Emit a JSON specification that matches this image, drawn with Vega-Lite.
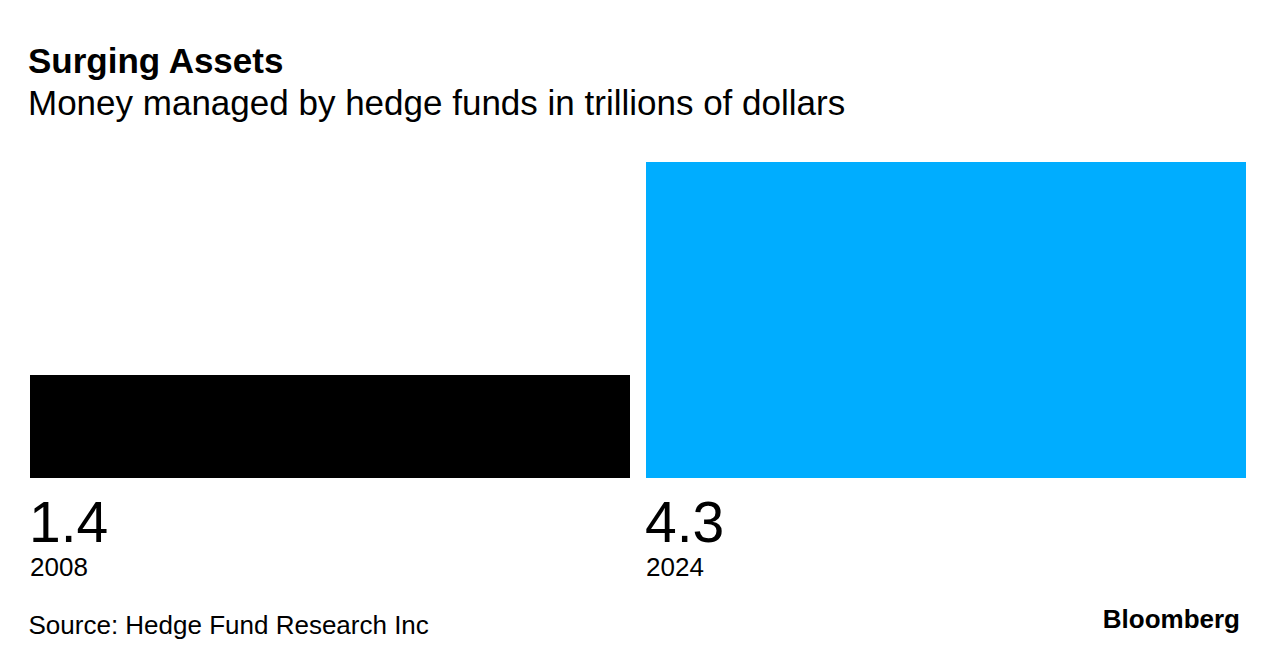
{
  "$schema": "https://vega.github.io/schema/vega-lite/v6.json",
  "width": 1216,
  "height": 316,
  "autosize": {"type": "none"},
  "padding": {"left": 30, "top": 162, "right": 34, "bottom": 188},
  "background": "#ffffff",
  "config": {"view": {"stroke": null}, "font": "Liberation Sans"},
  "title": {
    "text": "Surging Assets",
    "subtitle": "Money managed by hedge funds in trillions of dollars",
    "anchor": "start",
    "frame": "group",
    "dx": -2,
    "offset": 40,
    "font": "Liberation Sans",
    "fontSize": 35,
    "fontWeight": "bold",
    "color": "#000000",
    "subtitleFont": "Liberation Sans",
    "subtitleFontSize": 35,
    "subtitleColor": "#000000",
    "subtitlePadding": 7
  },
  "data": {
    "values": [
      {"year": "2008", "assets": 1.4, "label": "1.4"},
      {"year": "2024", "assets": 4.3, "label": "4.3"}
    ]
  },
  "layer": [
    {
      "mark": {"type": "bar"},
      "encoding": {
        "x": {
          "field": "year",
          "type": "nominal",
          "sort": null,
          "scale": {"paddingInner": 0.025974, "paddingOuter": 0},
          "axis": {
            "title": "Source: Hedge Fund Research Inc",
            "titleAnchor": "start",
            "titleAlign": "left",
            "titleBaseline": "alphabetic",
            "titleX": -2,
            "titleY": 155,
            "titleFont": "Liberation Sans",
            "titleFontSize": 26,
            "titleFontWeight": "normal",
            "titleColor": "#000000",
            "labelAlign": "left",
            "labelOffset": -300,
            "labelBaseline": "alphabetic",
            "labelPadding": 97,
            "labelFont": "Liberation Sans",
            "labelFontSize": 26,
            "labelColor": "#000000",
            "labelAngle": 0,
            "ticks": false,
            "tickSize": 0,
            "domain": false,
            "grid": false
          }
        },
        "y": {
          "field": "assets",
          "type": "quantitative",
          "scale": {"domain": [0, 4.3], "nice": false, "zero": true},
          "axis": null
        },
        "color": {
          "field": "year",
          "type": "nominal",
          "scale": {"domain": ["2008", "2024"], "range": ["#000000", "#00ADFF"]},
          "legend": null
        }
      }
    },
    {
      "mark": {"type": "text", "align": "left", "baseline": "alphabetic", "dy": 64, "dx": -1, "fontSize": 57, "font": "Liberation Sans", "color": "#000000"},
      "encoding": {
        "x": {"field": "year", "type": "nominal", "bandPosition": 0},
        "y": {"datum": 0, "type": "quantitative"},
        "text": {"field": "label"}
      }
    },
    {
      "data": {"values": [{"brand": "Bloomberg"}]},
      "mark": {"type": "text", "align": "right", "baseline": "alphabetic", "dy": 150, "dx": -6, "fontSize": 26, "fontWeight": "bold", "font": "Liberation Sans", "color": "#000000"},
      "encoding": {
        "x": {"datum": "2024", "type": "nominal", "bandPosition": 1},
        "y": {"datum": 0, "type": "quantitative"},
        "text": {"field": "brand"}
      }
    }
  ]
}
